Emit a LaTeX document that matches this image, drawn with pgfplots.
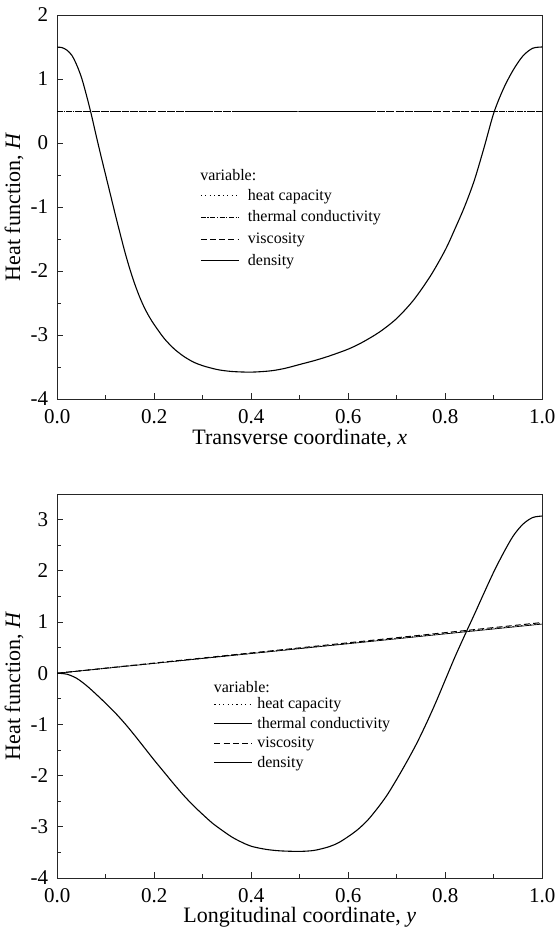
\documentclass[border=0pt]{standalone}
\usepackage{fontspec}
\setmainfont{Liberation Serif}
\usepackage{pgfplots}
\pgfplotsset{compat=1.18}

\pgfplotsset{
  hf/.style={
    scale only axis, width=242.5pt, height=192pt,
    at={(0pt,0pt)}, anchor=south west,
    xmin=0, xmax=1,
    xtick={0,0.2,0.4,0.6,0.8,1},
    minor xtick={0.1,0.3,0.5,0.7,0.9},
    xticklabel style={yshift=-1.5pt, /pgf/number format/fixed,/pgf/number format/fixed zerofill,/pgf/number format/precision=1},
    yticklabel style={xshift=-1pt},
    /pgf/number format/assume math mode=true,
    tick align=inside, tick pos=left,
    major tick length=3pt, minor tick length=2pt,
    axis line style={line width=0.5pt, black!85},
    every tick/.style={black!85, line width=0.5pt},
    tick label style={font=\fontsize{10.5}{12}\selectfont},
    label style={font=\fontsize{11}{13}\selectfont},
    ylabel={Heat function, \textit{H}},
    ylabel style={at={(axis description cs:-0.089,0.5)}, anchor=center},
    xlabel style={at={(axis description cs:0.5,-0.103)}, anchor=center},
    legend cell align=left,
    legend style={draw=none, fill=none, font=\fontsize{8}{9}\selectfont,
      inner sep=0pt, nodes={inner sep=0pt, text height=6pt, text depth=1.5pt}},
    legend image code/.code={\draw[##1] (0pt,0pt) -- (19pt,0pt);},
    every axis plot/.append style={line width=0.55pt, black},
  },
  hcap/.style={line width=0.5pt, dash pattern=on 0.6pt off 1.6pt},
  tcond/.style={line width=0.5pt, dash pattern=on 2.5pt off 0.8pt on 0.6pt off 0.8pt},
  visc/.style={line width=0.5pt, dash pattern=on 3pt off 1.6pt},
}

\begin{document}
\begin{tikzpicture}
\useasboundingbox (-28.65pt,-267pt) rectangle (249.35pt,199.5pt);

% top: transverse coordinate
\begin{axis}[hf,
  ymin=-4, ymax=2,
  ytick={-4,-3,-2,-1,0,1,2},
  minor ytick={-3.5,-2.5,-1.5,-0.5,0.5,1.5},
  xlabel={Transverse coordinate, \textit{x}},
  legend style={at={(axis cs:0.294,-0.70)}, anchor=north west, row sep=3.35pt, column sep=4.3pt},
]
\addplot[hcap] coordinates {(0,0.49) (0.5,0.49) (1,0.49)};
\addplot[tcond] coordinates {(0,0.495) (0.5,0.495) (1,0.495)};
\addplot[visc] coordinates {(0,0.50) (0.5,0.50) (1,0.50)};
\addplot[smooth, tension=0.5] coordinates {
 (0,1.50) (0.01,1.49) (0.02,1.45) (0.03,1.37) (0.04,1.22) (0.05,1.02) (0.06,0.75)
 (0.07,0.45) (0.08,0.12) (0.09,-0.20) (0.10,-0.51) (0.11,-0.82) (0.12,-1.13)
 (0.13,-1.43) (0.14,-1.72) (0.15,-1.98) (0.16,-2.21) (0.17,-2.41) (0.18,-2.58)
 (0.19,-2.72) (0.20,-2.84) (0.22,-3.05) (0.24,-3.21) (0.26,-3.33) (0.28,-3.42)
 (0.30,-3.48) (0.33,-3.54) (0.36,-3.57) (0.40,-3.58) (0.44,-3.56) (0.47,-3.52)
 (0.50,-3.46) (0.53,-3.40) (0.56,-3.33) (0.60,-3.22) (0.63,-3.11) (0.665,-2.95)
 (0.70,-2.74) (0.735,-2.45) (0.77,-2.07) (0.80,-1.67) (0.82,-1.34) (0.84,-0.99)
 (0.86,-0.58) (0.88,-0.07) (0.90,0.47) (0.92,0.85) (0.94,1.14) (0.96,1.36)
 (0.98,1.48) (1.00,1.50)
};
\legend{heat capacity, thermal conductivity, viscosity, density}
\node[anchor=west, font=\fontsize{8}{9}\selectfont, inner sep=0pt] at (axis cs:0.294,-0.5) {variable:};
\end{axis}

% bottom: longitudinal coordinate
\begin{axis}[hf,
  at={(0pt,-239.5pt)},
  ymin=-4, ymax=3.5,
  ytick={-4,-3,-2,-1,0,1,2,3},
  minor ytick={-3.5,-2.5,-1.5,-0.5,0.5,1.5,2.5},
  xlabel={Longitudinal coordinate, \textit{y}},
  legend style={at={(axis cs:0.322,-0.45)}, anchor=north west, row sep=2.25pt, column sep=2.2pt},
]
\addplot[hcap] coordinates {(0,0) (0.5,0.485) (1,0.97)};
\addplot[line width=0.35pt] coordinates {(0,0) (0.5,0.48) (1,0.96)};
\addplot[visc] coordinates {(0,0) (0.5,0.495) (1,0.99)};
\addplot[smooth, tension=0.5] coordinates {
 (0,0) (0.02,-0.02) (0.04,-0.10) (0.06,-0.24) (0.08,-0.41) (0.10,-0.59)
 (0.12,-0.78) (0.14,-0.99) (0.16,-1.22) (0.18,-1.46) (0.20,-1.70) (0.22,-1.93)
 (0.24,-2.16) (0.26,-2.38) (0.28,-2.58) (0.30,-2.76) (0.32,-2.93) (0.34,-3.07)
 (0.36,-3.20) (0.38,-3.30) (0.40,-3.38) (0.43,-3.44) (0.46,-3.47) (0.50,-3.48)
 (0.53,-3.46) (0.56,-3.39) (0.58,-3.31) (0.60,-3.19) (0.62,-3.05) (0.64,-2.87)
 (0.66,-2.64) (0.68,-2.38) (0.70,-2.07) (0.72,-1.74) (0.74,-1.39) (0.76,-1.00)
 (0.78,-0.58) (0.80,-0.13) (0.82,0.32) (0.84,0.74) (0.86,1.15) (0.88,1.57)
 (0.90,1.98) (0.92,2.35) (0.94,2.68) (0.96,2.91) (0.98,3.04) (1.00,3.07)
};
\legend{heat capacity, thermal conductivity, viscosity, density}
\node[anchor=west, font=\fontsize{8}{9}\selectfont, inner sep=0pt] at (axis cs:0.322,-0.27) {variable:};
\end{axis}
\end{tikzpicture}
\end{document}
